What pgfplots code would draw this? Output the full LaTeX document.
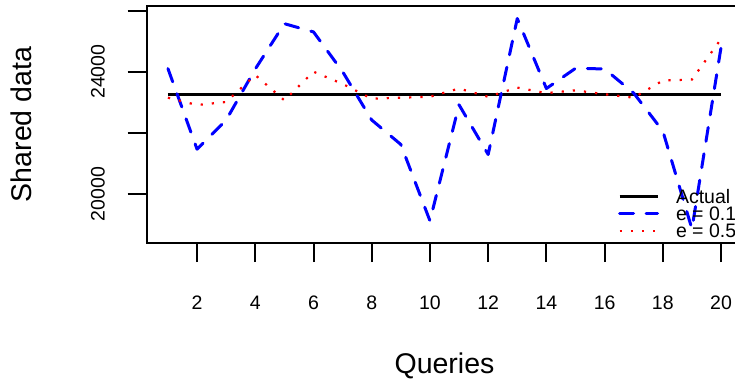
\documentclass[border=0pt]{standalone}
\usepackage{fontspec}
\setmainfont{Liberation Sans}
\usepackage{pgfplots}
\usepackage{pgfplotstable}
\pgfplotsset{compat=1.18}
\pgfplotstableread{
x act e01 e05
1 23250 24100 23150
2 23250 21465 22910
3 23250 22420 23010
4 23250 24088 23890
5 23250 25570 23063
6 23250 25300 24000
7 23250 24000 23600
8 23250 22420 23117
9 23250 21620 23150
10 23250 19124 23180
11 23250 22917 23450
12 23250 21292 23180
13 23250 25739 23480
14 23250 23450 23300
15 23250 24110 23390
16 23250 24090 23263
17 23250 23300 23150
18 23250 22060 23710
19 23250 18860 23745
20 23250 24800 25070
}\datatable
\begin{document}
\begin{tikzpicture}
\begin{axis}[
  at={(0,0)}, anchor=south west,
  scale only axis, width=595.6bp, height=237bp,
  xmin=0.27, xmax=20.73, ymin=18398, ymax=26148,
  axis line style={line width=2bp},
  xtick={2,4,...,20}, ytick={20000,22000,24000,26000},
  yticklabels={20000,{},24000,{}},
  scaled y ticks=false, scaled x ticks=false,
  tick align=outside, xtick pos=left, ytick pos=left,
  major tick length=19bp, tick style={line width=2bp, black},
  /pgf/number format/assume math mode=true,
  xticklabel style={anchor=north, inner sep=0pt, font=\fontsize{19.5bp}{22bp}\selectfont},
  xticklabel shift=34bp,
  yticklabel style={rotate=90, anchor=south, inner sep=0pt, font=\fontsize{19.5bp}{22bp}\selectfont},
  yticklabel shift=22.7bp,
  xlabel={Queries}, ylabel={Shared data},
  every axis x label/.style={at={(axis description cs:0.5,-0.5527)}, anchor=base,
    font=\fontsize{28.5bp}{30bp}\selectfont},
  every axis y label/.style={at={(axis description cs:-0.2099,0.5)}, rotate=90, anchor=center,
    font=\fontsize{28.5bp}{30bp}\selectfont},
  legend cell align=left,
  legend image code/.code={\draw[#1] (0bp,0bp) -- (38bp,0bp);},
  legend style={at={(axis description cs:0.7913,0.2236)}, anchor=north west,
    draw=none, fill=none, inner sep=0pt, outer sep=0pt,
    font=\fontsize{19.5bp}{19.5bp}\selectfont, row sep=3.1bp,
    nodes={inner sep=0pt, text height=13.9bp, text depth=0bp},
    /tikz/every odd column/.append style={column sep=17bp}},
]
\addplot[black, line width=3bp] table[x=x,y=act]{\datatable};
\addlegendentry{Actual}
\addplot[blue, line width=3bp, dash pattern=on 14bp off 12.7bp, line cap=round, line join=round] table[x=x,y=e01]{\datatable};
\addlegendentry{e = 0.1}
\addplot[red, line width=2.2bp, dash pattern=on 2.2bp off 9bp] table[x=x,y=e05]{\datatable};
\addlegendentry{e = 0.5}
\end{axis}
\pgfresetboundingbox
\useasboundingbox (-146.7bp,-142bp) rectangle (588.3bp,243bp);
\end{tikzpicture}
\end{document}
